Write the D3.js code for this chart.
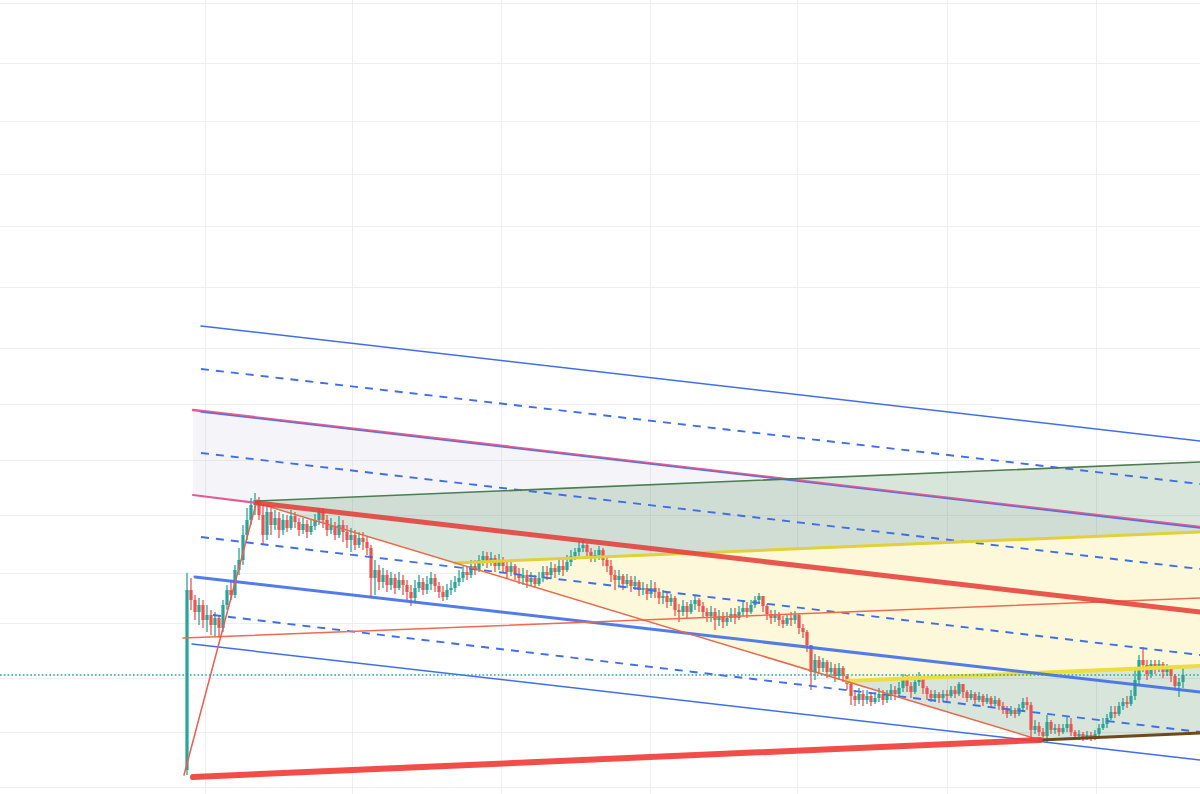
<!DOCTYPE html>
<html><head><meta charset="utf-8">
<script src="https://cdn.jsdelivr.net/npm/d3@7"></script>
<style>html,body{margin:0;padding:0;background:#fff;overflow:hidden}</style>
</head><body>
<svg id="c" width="1200" height="794"></svg>
<script>
// ---------- DATA ----------
const firstOpen = 30;
const closes = [
210,200,188,195,180,185,175,182,172,195,
210,205,230,240,265,280,295,300,285,265,
288,275,282,270,280,272,284,278,270,276,
268,274,280,288,280,270,274,265,275,268,
260,265,255,262,258,252,222,230,218,225,
215,222,212,220,215,208,202,212,218,210,
216,222,214,208,203,210,212,218,222,228,
225,234,230,240,244,238,242,234,240,234,
228,234,226,222,225,218,222,216,222,228,
225,232,228,234,230,238,244,248,252,255,
248,242,245,250,240,234,225,220,224,216,
220,214,218,210,212,206,212,208,202,204,
198,202,190,188,194,188,196,200,194,188,
184,188,180,184,178,182,186,182,188,192,
188,195,200,204,194,186,182,186,180,176,
182,180,185,172,168,155,128,140,132,138,
128,132,124,132,124,116,104,100,106,100,
104,98,102,106,100,104,110,106,112,120,
114,108,118,124,112,106,102,106,102,106,
104,110,106,116,108,102,106,100,104,98,
102,96,100,94,90,86,90,86,92,98,
95,70,74,68,64,78,70,72,68,72,
76,68,64,66,62,65,62,66,72,76,
82,88,86,94,98,96,104,120,140,135,
126,136,132,136,128,132,124,114,118,125];
const highs = [
227,222,205,202,200,195,190,188,185,200,
215,220,235,252,275,292,302,307,303,295,
295,292,290,288,286,285,290,288,282,282,
280,280,286,292,292,285,282,278,284,280,
275,272,270,268,268,264,255,240,235,232,
230,228,226,228,225,220,215,220,225,222,
224,228,226,218,214,216,220,224,230,234,
234,240,240,245,249,248,248,245,246,243,
240,240,236,232,232,230,228,225,228,234,
234,238,236,240,240,245,250,252,258,260,
257,252,250,254,252,244,240,230,230,226,
226,224,224,220,218,216,220,218,212,210,
208,206,204,196,200,198,200,204,202,198,
192,194,192,190,188,188,192,192,194,198,
198,200,204,207,204,196,190,190,188,184,
186,188,189,186,176,170,155,146,144,142,
140,138,136,137,134,126,118,110,112,110,
110,108,108,112,110,110,116,114,118,126,
125,118,124,128,124,114,110,110,108,110,
110,114,114,118,116,110,110,108,108,106,
106,104,104,102,98,94,94,92,96,102,
103,98,80,78,72,85,80,76,76,76,
83,82,70,70,68,69,68,70,76,82,
86,94,94,98,102,104,110,130,145,153,
140,140,140,140,138,136,134,126,122,132];
const lows = [
25,190,180,175,172,168,165,163,162,168,
190,200,202,225,235,260,275,285,280,255,
260,265,270,262,265,268,270,272,264,266,
262,265,270,275,272,264,266,260,262,258,
252,248,250,252,250,245,202,205,210,212,
208,210,206,210,205,200,194,197,208,205,
206,210,208,202,199,200,205,208,214,218,
220,222,225,228,234,232,234,228,230,228,
222,224,220,216,215,212,214,212,214,218,
220,222,222,225,224,228,234,240,244,248,
244,238,238,240,234,228,218,210,214,210,
212,208,210,204,205,200,202,202,196,196,
192,194,184,178,184,182,186,190,188,182,
178,178,170,174,172,174,178,176,180,184,
182,186,192,196,188,180,176,178,174,172,
174,174,176,166,162,148,110,120,126,128,
122,124,118,120,118,110,95,94,96,94,
96,94,96,98,95,97,100,100,102,108,
108,102,106,114,106,100,98,98,97,98,
98,102,102,104,102,98,100,96,98,94,
96,92,94,90,86,82,84,82,84,88,
90,60,66,64,60,58,66,66,64,66,
68,64,60,60,59,60,59,60,63,70,
72,80,82,84,90,92,94,100,115,128,
120,122,126,128,122,124,118,110,103,112];

const gridPrices = [797,737,679,626,574,513,452,396,340,285,227,177,122,68,13];
const gridTimes = [4.5,41.25,78.5,115.75,152.5,190,227.25];
const lastPrice = 125;

// drawing anchor points [barIndex, price]
const blueTop    = [[3.5,474],[253.25,359]];
const blueDash1  = [[3.5,431],[253.25,316]];
const pinkTop    = [[1.5,390],[253.25,273]];
const blueMid    = [[3.5,388],[253.25,272]];
const blueDash2  = [[3.5,347],[253.25,231]];
const pinkBottom = [[1.5,305],[17.5,297]];
const redMain    = [[17.5,297],[253.25,188]];
const blueDash3  = [[3.5,263],[253.25,145]];
const blueThick  = [[2,223],[253.25,108]];
const blueDash4  = [[6.5,185],[253.25,68]];
const blueBottom = [[1.25,156],[253.25,40]];
const greenTop   = [[17.5,299],[253.25,338]];
const yellow1    = [[67,237],[253.25,268]];
const yellow2    = [[165,119],[253.25,134]];
const fibBottom  = [[213.25,60],[253.25,67]];
const redBottom  = [[1.5,23],[213.25,60]];
const orangeThin = [[-1,162],[253.25,202]];
const diagonal   = [[17.5,297],[213.25,60]];
const riseLine   = [[-0.75,25],[17.5,300]];

// ---------- CHART ----------
const W = 1200, H = 794;
const x = d3.scaleLinear().domain([0, 249]).range([187, 1183]);
const y = d3.scaleLinear().domain([6, 800]).range([794, 0]);
const svg = d3.select('#c');
const line = d3.line().x(d => x(d[0])).y(d => y(d[1]));

// grid via axes
const gy = svg.append('g').call(d3.axisRight(y).tickValues(gridPrices).tickSize(W).tickFormat(''));
gy.select('.domain').remove();
gy.selectAll('line').attr('stroke', '#eeeef1');
const gx = svg.append('g').call(d3.axisBottom(x).tickValues(gridTimes).tickSize(H).tickFormat(''));
gx.select('.domain').remove();
gx.selectAll('line').attr('stroke', '#eeeef1');

// lavender channel fill
svg.append('path')
  .attr('d', line([pinkTop[0], pinkTop[1], redMain[1], pinkBottom[0]]) + 'Z')
  .attr('fill', 'rgba(110,110,170,0.07)');

// fib channel fills
const clipPts = [greenTop[0], greenTop[1], fibBottom[1], fibBottom[0], diagonal[0]];
svg.append('clipPath').attr('id', 'fibclip').append('path').attr('d', line(clipPts) + 'Z');
const fg = svg.append('g').attr('clip-path', 'url(#fibclip)');
fg.append('path').attr('d', line(clipPts) + 'Z').attr('fill', 'rgba(70,130,80,0.21)');
fg.append('path').attr('d', line([yellow1[0], yellow1[1], yellow2[1], yellow2[0]]) + 'Z')
  .attr('fill', '#fdf8da');

// candles
const bars = closes.map((c, i) => ({
  i, o: i === 0 ? firstOpen : closes[i - 1], c, h: highs[i], l: lows[i]
}));
const cg = svg.append('g');
cg.selectAll('line').data(bars).join('line')
  .attr('x1', d => x(d.i)).attr('x2', d => x(d.i))
  .attr('y1', d => y(Math.max(d.h, d.o, d.c))).attr('y2', d => y(Math.min(d.l, d.o, d.c)))
  .attr('stroke', d => d.c >= d.o ? '#26a69a' : '#ef5350').attr('stroke-width', 1.3);
cg.selectAll('rect').data(bars).join('rect')
  .attr('x', d => x(d.i) - 1.6).attr('width', 3.2)
  .attr('y', d => y(Math.max(d.o, d.c)))
  .attr('height', d => Math.max(1.5, Math.abs(y(d.o) - y(d.c))))
  .attr('fill', d => d.c >= d.o ? '#26a69a' : '#ef5350');

// drawing lines
function draw(pts, color, w, opts = {}) {
  const p = svg.append('path').attr('d', line(pts)).attr('fill', 'none')
    .attr('stroke', color).attr('stroke-width', w).attr('stroke-linecap', 'round');
  if (opts.dash) p.attr('stroke-dasharray', opts.dash).attr('stroke-linecap', 'butt');
  if (opts.op) p.attr('stroke-opacity', opts.op);
  return p;
}
const BLUE = '#3f6ee8';
const DASH = '8,7';
draw(blueTop, BLUE, 1.5);
draw(blueDash1, BLUE, 1.9, {dash: DASH});
draw(pinkTop, '#e45a92', 2.4);
draw(blueMid, BLUE, 1.4, {op: 0.85});
draw(blueDash2, BLUE, 1.9, {dash: DASH});
draw(pinkBottom, '#e45a92', 2);
draw(greenTop, '#4b7d50', 1.6);
draw(yellow1, '#e2d03a', 3);
draw(yellow2, '#eedd3e', 4);
draw(blueDash3, BLUE, 1.9, {dash: DASH});
draw(blueThick, BLUE, 3, {op: 0.9});
draw(blueDash4, BLUE, 1.9, {dash: DASH});
draw(blueBottom, BLUE, 1.5);
draw(orangeThin, '#f06a4e', 1.5);
draw(diagonal, '#e8674a', 1.5);
draw(riseLine, '#f05a50', 1.5);
draw(redMain, '#e53935', 5, {op: 0.85});
draw(fibBottom, '#6d4a1e', 3);
draw(redBottom, '#ef3b36', 6, {op: 0.9});

// last price dotted line
svg.append('line').attr('x1', 0).attr('x2', W)
  .attr('y1', y(lastPrice)).attr('y2', y(lastPrice))
  .attr('stroke', '#26a69a').attr('stroke-width', 1.6).attr('stroke-dasharray', '1.6,2.2');
</script>
</body></html>
